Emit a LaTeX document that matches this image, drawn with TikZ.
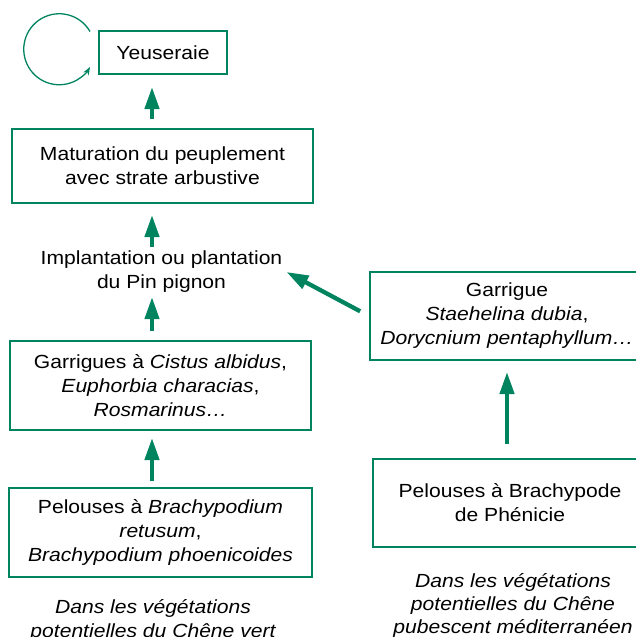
\documentclass[tikz,border=0pt]{standalone}
\usepackage{fontspec}
\setmainfont{Liberation Sans}[FakeStretch=1.11]
\usetikzlibrary{arrows.meta}
\definecolor{vert}{RGB}{0,132,96}

\begin{document}
\begin{tikzpicture}[x=1pt,y=-1pt,font=\fontsize{19}{24}\selectfont,
                    box/.style={draw=vert,line width=2pt,inner sep=0pt,align=center},
                    flow/.style={vert,line width=4.3pt,-{Triangle[length=22pt,width=14pt]}}]
  \useasboundingbox (0,0) rectangle (635,637);
  % left column
  \node[box,minimum width=128pt,minimum height=43pt] (yeus) at (163,52.5) {Yeuseraie};
  \node[box,minimum width=301pt,minimum height=74pt] (matur) at (162.5,166) {Maturation du peuplement\\avec strate arbustive};
  \node[inner sep=4pt,align=center] (implant) at (161.5,272) {Implantation ou plantation\\du Pin pignon};
  \node[box,minimum width=301pt,minimum height=89pt] (garr) at (160.5,385.5) {Garrigues à \textit{Cistus albidus},\\\textit{Euphorbia characias},\\\textit{Rosmarinus…}};
  \node[box,minimum width=303pt,minimum height=89pt] (pel) at (160.5,532.5) {Pelouses à \textit{Brachypodium}\\\textit{retusum},\\\textit{Brachypodium phoenicoides}};
  \node[align=center,font=\fontsize{19}{24}\selectfont\itshape] (capL) at (153,620) {Dans les végétations\\potentielles du Chêne vert};
  % right column
  \node[box,minimum width=274pt,minimum height=88pt] (garrR) at (507,316) {Garrigue\\\textit{Staehelina dubia},\\\textit{Dorycnium pentaphyllum…}};
  \node[box,minimum width=274pt,minimum height=88pt] (pelR) at (510,503) {Pelouses à Brachypode\\de Phénicie};
  \node[align=center,font=\fontsize{19}{23}\selectfont\itshape] (capR) at (513,605) {Dans les végétations\\potentielles du Chêne\\pubescent méditerranéen};
  % arrows
  \coordinate (colL) at (152,0);
  \draw[flow,shorten <=6pt,shorten >=7pt] (pel.north -| colL) -- (garr.south -| colL);
  \draw[flow,shorten <=9pt] (garr.north -| colL) -- (implant.south -| colL);
  \draw[flow,shorten >=11pt] (implant.north -| colL) -- (matur.south -| colL);
  \draw[flow,shorten <=9pt,shorten >=12pt] (matur.north -| colL) -- (yeus.south -| colL);
  \draw[flow,shorten <=10pt] (garrR.west) -- (implant.east);
  \draw[flow,shorten <=14pt,shorten >=11pt] (pelR.north -| garrR.south) -- (garrR.south);
  % loop beside the top box
  \draw[vert,line width=1.3pt,-{Stealth[length=8pt,width=6pt]}] ([shift={(-8,-21)}]yeus.west)
    arc[start angle=-30,end angle=-330,radius=35.5];
\end{tikzpicture}
\end{document}
